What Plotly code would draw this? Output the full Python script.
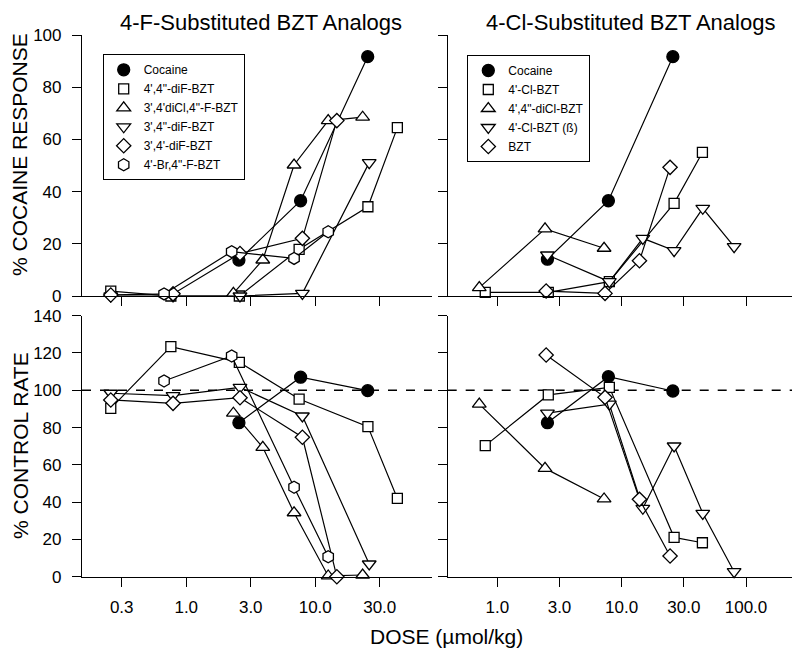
import plotly.graph_objects as go

# ---------------- data: 4-F-substituted (left) ----------------
f_names = ["Cocaine", "4',4\"-diF-BZT", "3',4'diCl,4\"-F-BZT", "3',4\"-diF-BZT", "3',4'-diF-BZT", "4'-Br,4\"-F-BZT"]
f_cocaine_dose = [2.56, 7.7, 25.5]
f_cocaine_resp = [13.8, 36.5, 91.7]
f_cocaine_rate = [82.6, 107.0, 99.8]

f_diF44_dose = [0.26, 0.76, 2.58, 7.5, 25.6, 43.3]
f_diF44_resp = [1.9, 0.0, 0.0, 17.9, 34.2, 64.5]
f_diF44_rate = [90.3, 123.4, 115.0, 95.3, 80.5, 42.0]

f_diCl_dose = [2.32, 3.92, 6.85, 12.6, 23.3]
f_diCl_resp = [1.0, 13.8, 50.2, 67.2, 68.5]
f_diCl_rate = [87.7, 69.4, 34.3, 0.4, 0.9]

f_diF34pp_dose = [0.26, 0.79, 2.61, 7.95, 26.2]
f_diF34pp_resp = [0.0, 0.0, 0.0, 1.0, 51.1]
f_diF34pp_rate = [98.4, 97.1, 101.6, 86.2, 6.8]

f_diF34p_dose = [0.26, 0.79, 2.61, 7.95, 14.7]
f_diF34p_resp = [0.4, 0.8, 16.3, 22.1, 67.2]
f_diF34p_rate = [94.8, 93.0, 96.0, 74.8, 0.0]

f_br_dose = [0.673, 2.25, 6.85, 12.6]
f_br_resp = [0.8, 17.0, 14.4, 24.6]
f_br_rate = [105.0, 118.4, 48.0, 10.7]

# ---------------- data: 4-Cl-substituted (right) ----------------
c_names = ["Cocaine", "4'-Cl-BZT", "4',4\"-diCl-BZT", "4'-Cl-BZT (ß)", "BZT"]
c_cocaine_dose = [2.53, 7.82, 25.8]
c_cocaine_resp = [14.1, 36.5, 91.7]
c_cocaine_rate = [82.6, 107.3, 99.6]

c_cl_dose = [0.80, 2.57, 7.96, 26.4, 44.6]
c_cl_resp = [1.4, 1.4, 5.5, 35.5, 55.0]
c_cl_rate = [70.3, 97.5, 101.6, 21.1, 18.2]

c_dicl_dose = [0.716, 2.42, 7.22]
c_dicl_resp = [3.2, 25.7, 18.3]
c_dicl_rate = [92.6, 58.1, 41.7]

c_clb_dose = [2.53, 7.96, 14.8, 26.4, 44.9, 80.2]
c_clb_resp = [15.7, 5.5, 22.1, 17.4, 33.6, 18.9]
c_clb_rate = [87.7, 92.6, 36.7, 70.1, 34.0, 2.7]

c_bzt_dose = [2.47, 7.35, 13.9, 24.5]
c_bzt_resp = [1.9, 1.0, 13.5, 49.3]
c_bzt_rate = [118.9, 96.2, 41.5, 11.1]

left_tickvals = [10 ** -0.5, 1, 10 ** 0.5, 10, 10 ** 1.5]
left_ticktext = ["0.3", "1.0", "3.0", "10.0", "30.0"]
right_tickvals = [1, 10 ** 0.5, 10, 10 ** 1.5, 100]
right_ticktext = ["1.0", "3.0", "10.0", "30.0", "100.0"]
resp_ticks = [0, 20, 40, 60, 80, 100]
rate_ticks = [0, 20, 40, 60, 80, 100, 120, 140]

FONT = "Liberation Sans, Arial, sans-serif"

symbols_f = ["circle", "square", "triangle-up", "triangle-down", "diamond", "hexagon"]
sizes_f = [12, 10, 12, 12, 11, 12]
symbols_c = ["circle", "square", "triangle-up", "triangle-down", "diamond"]
sizes_c = [12, 10, 12, 12, 11]

f_series = [
    (f_cocaine_dose, f_cocaine_resp, f_cocaine_rate),
    (f_diF44_dose, f_diF44_resp, f_diF44_rate),
    (f_diCl_dose, f_diCl_resp, f_diCl_rate),
    (f_diF34pp_dose, f_diF34pp_resp, f_diF34pp_rate),
    (f_diF34p_dose, f_diF34p_resp, f_diF34p_rate),
    (f_br_dose, f_br_resp, f_br_rate),
]
c_series = [
    (c_cocaine_dose, c_cocaine_resp, c_cocaine_rate),
    (c_cl_dose, c_cl_resp, c_cl_rate),
    (c_dicl_dose, c_dicl_resp, c_dicl_rate),
    (c_clb_dose, c_clb_resp, c_clb_rate),
    (c_bzt_dose, c_bzt_resp, c_bzt_rate),
]

fig = go.Figure()


def add(x, y, name, sym, size, xa, ya, legend, show):
    fill = "black" if sym == "circle" else "white"
    # connecting line (kept out of the legend so legend shows symbols only)
    fig.add_trace(go.Scatter(
        x=x, y=y, mode="lines", name=name, xaxis=xa, yaxis=ya,
        legend=legend, showlegend=False, hoverinfo="skip",
        line=dict(color="black", width=1.2), cliponaxis=False,
    ))
    fig.add_trace(go.Scatter(
        x=x, y=y, mode="markers", name=name,
        xaxis=xa, yaxis=ya, legend=legend, showlegend=show,
        marker=dict(symbol=sym, size=size, color=fill,
                    line=dict(color="black", width=1.3)),
        cliponaxis=False,
    ))


for i, (d, r, c) in enumerate(f_series):
    add(d, r, f_names[i], symbols_f[i], sizes_f[i], "x", "y", "legend", True)
for i, (d, r, c) in enumerate(f_series):
    add(d, c, f_names[i], symbols_f[i], sizes_f[i], "x3", "y3", "legend", False)
for i, (d, r, c) in enumerate(c_series):
    add(d, r, c_names[i], symbols_c[i], sizes_c[i], "x2", "y2", "legend2", True)
for i, (d, r, c) in enumerate(c_series):
    add(d, c, c_names[i], symbols_c[i], sizes_c[i], "x4", "y4", "legend2", False)

W, H = 800, 657
OFF = 8  # page body margin shifts the figure by 8px


def px(x):
    return (x - OFF) / W


def py(y):
    return 1 - (y - OFF) / H


xl = [px(82), px(432)]
xr = [px(447.7), px(797)]
yt = [py(296), py(35)]
yb = [py(576.7), py(315.7)]

axis_common = dict(showline=True, linecolor="black", linewidth=1.2, ticks="outside",
                   ticklen=9, tickwidth=1.2, tickcolor="black", showgrid=False,
                   zeroline=False, automargin=False,
                   tickfont=dict(family=FONT, size=17, color="black"))

xl_range = [-0.808, 1.905]
xr_range = [-0.399, 2.41]

fig.update_layout(
    template="none",
    width=W, height=H, margin=dict(l=0, r=0, t=0, b=0, pad=0),
    paper_bgcolor="white", plot_bgcolor="white",
    font=dict(family=FONT, color="black"),
    xaxis=dict(domain=xl, type="log", range=xl_range, tickvals=left_tickvals,
               showticklabels=False, anchor="y", **axis_common),
    xaxis2=dict(domain=xr, type="log", range=xr_range, tickvals=right_tickvals,
                showticklabels=False, anchor="y2", **axis_common),
    xaxis3=dict(domain=xl, type="log", range=xl_range, tickvals=left_tickvals,
                ticktext=left_ticktext, anchor="y3", ticklabelstandoff=6, **axis_common),
    xaxis4=dict(domain=xr, type="log", range=xr_range, tickvals=right_tickvals,
                ticktext=right_ticktext, anchor="y4", ticklabelstandoff=6, **axis_common),
    yaxis=dict(domain=yt, range=[0, 100], tickvals=resp_ticks, anchor="x",
               ticklabelstandoff=7, **axis_common),
    yaxis2=dict(domain=yt, range=[0, 100], tickvals=resp_ticks, showticklabels=False,
                anchor="x2", **axis_common),
    yaxis3=dict(domain=yb, range=[0, 140], tickvals=rate_ticks, anchor="x3",
                ticklabelstandoff=7, **axis_common),
    yaxis4=dict(domain=yb, range=[0, 140], tickvals=rate_ticks, showticklabels=False,
                anchor="x4", **axis_common),
    legend=dict(x=px(102.7), y=py(54.3), xanchor="left", yanchor="top",
                bordercolor="black", borderwidth=1, bgcolor="white",
                font=dict(family=FONT, size=12, color="black")),
    legend2=dict(x=px(467.3), y=py(55), xanchor="left", yanchor="top",
                 bordercolor="black", borderwidth=1, bgcolor="white",
                 font=dict(family=FONT, size=12, color="black")),
    showlegend=True,
)

for xa, ya in [("x3", "y3"), ("x4", "y4")]:
    fig.add_shape(type="line", xref=f"{xa} domain", yref=ya, x0=0, x1=1, y0=100, y1=100,
                  line=dict(color="black", width=1.5, dash="dash"), layer="below")


def label(text, x, y, size, angle=0, yanchor="middle"):
    fig.add_annotation(text=text, x=px(x), y=py(y), xref="paper", yref="paper",
                       showarrow=False, textangle=angle, xanchor="center", yanchor=yanchor,
                       font=dict(family=FONT, size=size, color="black"))


label("4-F-Substituted BZT Analogs", 261, 8, 22, yanchor="top")
label("4-Cl-Substituted BZT Analogs", 630, 8, 22, yanchor="top")
label("% COCAINE RESPONSE", 20, 155, 21, -90)
label("% CONTROL RATE", 20, 446, 21, -90)
label("DOSE (µmol/kg)", 446, 636, 21)

fig.write_html("out.html")
